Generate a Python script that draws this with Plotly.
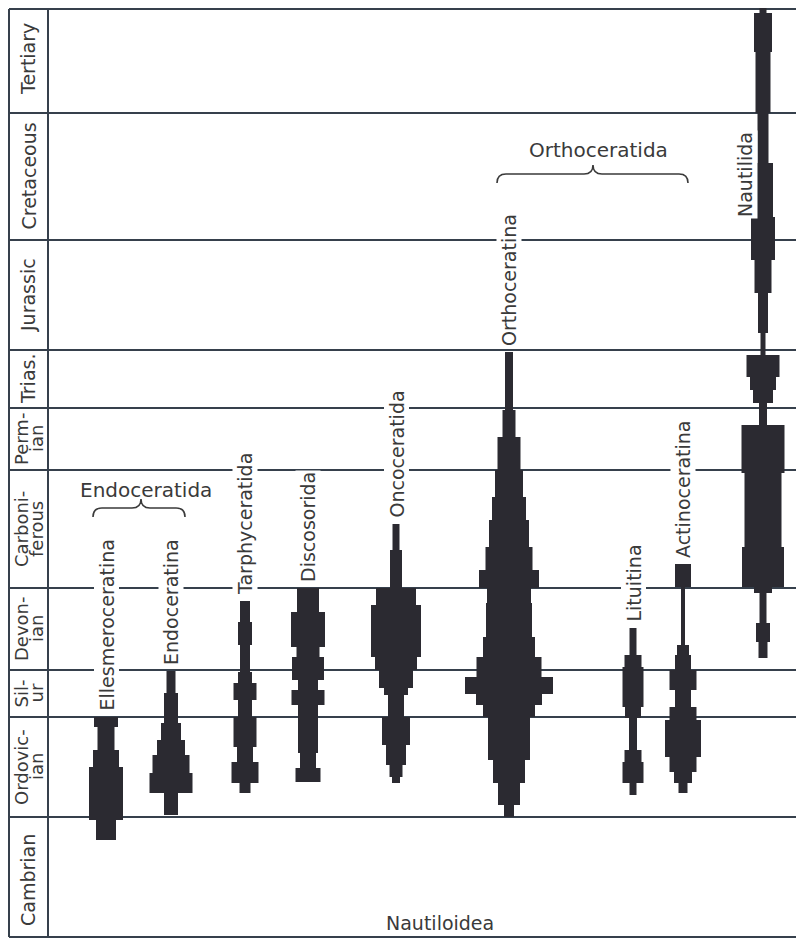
import plotly.graph_objects as go

# ---------------- data ----------------
# Stratigraphic scale: positions measured downward (older = larger), diagram units
period_names = ["Tertiary", "Cretaceous", "Jurassic", "Trias.", "Perm-|ian",
                "Carboni-|ferous", "Devon-|ian", "Sil-|ur", "Ordovic-|ian", "Cambrian"]
period_tops = [5, 113, 240, 350, 408, 470, 588, 670, 717, 817]
column_bottom = 943

# spindle data: (start, end, relative diversity width)
ellesmeroceratina = [(717, 727, 24), (727, 750, 17), (750, 767, 26), (767, 820, 34), (820, 840, 20)]
endoceratina = [(671, 693, 9), (693, 723, 14), (723, 740, 20), (740, 755, 28), (755, 773, 37),
                (773, 793, 43), (793, 815, 14)]
tarphyceratida = [(601, 622, 10), (622, 645, 14), (645, 672, 10), (672, 683, 14), (683, 700, 23),
                  (700, 717, 14), (717, 747, 23), (747, 762, 16), (762, 783, 27), (783, 793, 11)]
discosorida = [(588, 612, 22), (612, 647, 34), (647, 657, 23), (657, 680, 32), (680, 690, 20),
               (690, 705, 33), (705, 753, 20), (753, 768, 16), (768, 782, 25)]
oncoceratida = [(524, 550, 7), (550, 588, 12), (588, 605, 40), (605, 657, 50), (657, 670, 42),
                (670, 688, 34), (688, 695, 24), (695, 717, 16), (717, 745, 28), (745, 765, 20),
                (765, 777, 13), (777, 783, 8)]
orthoceratina = [(352, 410, 8), (410, 437, 13), (437, 470, 23), (470, 497, 28), (497, 520, 34),
                 (520, 547, 40), (547, 570, 47), (570, 588, 60), (588, 603, 44), (603, 637, 46),
                 (637, 657, 52), (657, 677, 65), (677, 694, 88), (694, 705, 66), (705, 717, 52),
                 (717, 760, 42), (760, 783, 32), (783, 805, 22), (805, 817, 10)]
lituitina = [(628, 655, 7), (655, 667, 17), (667, 707, 21), (707, 718, 16), (718, 750, 8),
             (750, 762, 17), (762, 783, 21), (783, 795, 7)]
actinoceratina = [(564, 587, 16), (587, 645, 4), (645, 655, 12), (655, 670, 16), (670, 690, 27),
                  (690, 707, 16), (707, 720, 27), (720, 757, 36), (757, 772, 27), (772, 783, 18),
                  (783, 793, 9)]
nautilida = [(5, 13, 7), (13, 52, 18), (52, 113, 15), (113, 163, 11), (163, 217, 20), (217, 260, 24),
             (260, 293, 17), (293, 333, 10), (333, 355, 5), (355, 377, 33), (377, 390, 26),
             (390, 403, 20), (403, 425, 8), (425, 473, 43), (473, 547, 37), (547, 587, 42),
             (587, 593, 18), (593, 623, 7), (623, 642, 14), (642, 658, 9)]

taxa_names = ["Ellesmeroceratina", "Endoceratina", "Tarphyceratida", "Discosorida", "Oncoceratida",
              "Orthoceratina", "Lituitina", "Actinoceratina", "Nautilida"]
taxa_data = [ellesmeroceratina, endoceratina, tarphyceratida, discosorida, oncoceratida,
             orthoceratina, lituitina, actinoceratina, nautilida]
taxa_x = [106, 171, 245, 308, 396, 509, 633, 683, 763]

group_names = ["Endoceratida", "Orthoceratida"]
group_spans = [(93, 185), (497, 688)]
group_label_x = [146, 598]
bottom_title = "Nautiloidea"

# ---------------- figure ----------------
INK = "#2b2a31"
LINE = "#36404c"
TXT = "#3a3a3a"
FONT = "DejaVu Sans"

PAGE_W, PAGE_H, BODY_M = 804, 946, 8      # browser window and default page margin
FIG_W, FIG_H = PAGE_W - 2 * BODY_M, PAGE_H - 2 * BODY_M

fig = go.Figure()
for name, segs, cx in zip(taxa_names, taxa_data, taxa_x):
    fig.add_trace(go.Bar(
        x=[cx] * len(segs),
        base=[s[0] for s in segs],
        y=[s[1] - s[0] for s in segs],
        width=[s[2] for s in segs],
        marker=dict(color=INK, line=dict(width=0)),
        name=name, showlegend=False, hoverinfo="skip"))

shapes = []
col_left, col_right, plot_right = 9, 48, 804
top_line = 9
bot_line = 937
bounds_draw = [top_line] + period_tops[1:] + [bot_line]
for b in bounds_draw:
    shapes.append(dict(type="line", xref="x", yref="y", x0=col_left, x1=plot_right, y0=b, y1=b,
                       line=dict(color=LINE, width=2), layer="below"))
for xv in (col_left, col_right):
    shapes.append(dict(type="line", xref="x", yref="y", x0=xv, x1=xv, y0=top_line, y1=bot_line,
                       line=dict(color=LINE, width=2), layer="below"))

annotations = []
# period labels
bounds = period_tops + [column_bottom]
for i, nm in enumerate(period_names):
    yc = (bounds[i] + bounds[i + 1]) / 2
    parts = nm.split("|")
    if len(parts) == 1:
        annotations.append(dict(x=28, y=yc, xref="x", yref="y", text=parts[0],
                                textangle=-90, showarrow=False, font=dict(family=FONT, size=19, color=TXT),
                                bgcolor="white", borderpad=0))
    else:
        annotations.append(dict(x=21, y=yc, xref="x", yref="y", text=parts[0],
                                textangle=-90, showarrow=False, font=dict(family=FONT, size=18, color=TXT),
                                borderpad=0))
        annotations.append(dict(x=36, y=yc, xref="x", yref="y", text=parts[1],
                                textangle=-90, showarrow=False, font=dict(family=FONT, size=18, color=TXT),
                                borderpad=0))

# taxon labels
for name, segs, cx in zip(taxa_names, taxa_data, taxa_x):
    if name == "Nautilida":
        annotations.append(dict(x=cx - 18, y=175, xref="x", yref="y", text=name, textangle=-90,
                                showarrow=False, font=dict(family=FONT, size=19, color=TXT),
                                bgcolor="white", borderpad=1))
    else:
        annotations.append(dict(x=cx, y=segs[0][0] - 4, xref="x", yref="y", text=name, textangle=-90,
                                yanchor="bottom", showarrow=False,
                                font=dict(family=FONT, size=19, color=TXT), bgcolor="white", borderpad=1))

# group labels and braces
group_label_y = [490, 150]
brace_y = [508, 174]
for nm, (x0, x1), gx, gy, by in zip(group_names, group_spans, group_label_x, group_label_y, brace_y):
    annotations.append(dict(x=gx, y=gy, xref="x", yref="y", text=nm, showarrow=False,
                            font=dict(family=FONT, size=20, color=TXT)))
    xm = gx - 5
    h, r = 9, 9
    path = (f"M {x0},{by + h} Q {x0},{by} {x0 + r},{by} L {xm - r},{by} Q {xm},{by} {xm},{by - h} "
            f"Q {xm},{by} {xm + r},{by} L {x1 - r},{by} Q {x1},{by} {x1},{by + h}")
    shapes.append(dict(type="path", xref="x", yref="y", path=path, line=dict(color=TXT, width=1.6)))

annotations.append(dict(x=440, y=935, xref="x", yref="y", text=bottom_title, showarrow=False,
                        yanchor="bottom", borderpad=0,
                        font=dict(family=FONT, size=19, color=TXT)))

fig.update_layout(
    width=FIG_W, height=FIG_H,
    margin=dict(l=0, r=0, t=0, b=0),
    paper_bgcolor="white", plot_bgcolor="white",
    barmode="overlay",
    xaxis=dict(range=[BODY_M, BODY_M + FIG_W], visible=False, fixedrange=True),
    yaxis=dict(range=[BODY_M + FIG_H, BODY_M], visible=False, fixedrange=True),
    shapes=shapes, annotations=annotations,
)

fig.write_html("out.html")
